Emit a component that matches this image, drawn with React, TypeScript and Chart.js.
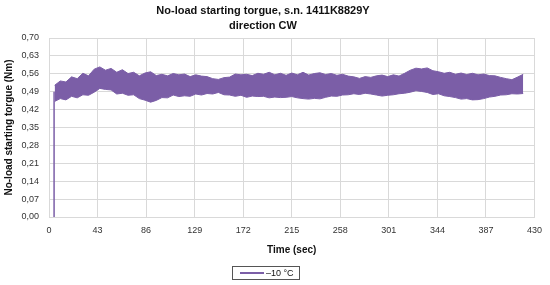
import React, { useEffect, useRef } from "react";
import { Chart, registerables } from "chart.js";

Chart.register(...registerables);

const titleLines = ["No-load starting torgue, s.n. 1411K8829Y", "direction CW"];
const xTitle = "Time (sec)";
const yTitle = "No-load starting torgue (Nm)";
const seriesLabel = "\u201310 \u00b0C";

const times = [
  5, 10, 15, 20, 25, 30, 35, 40, 45, 50, 55, 60, 65, 70, 75, 80, 85, 90, 95, 100,
  105, 110, 115, 120, 125, 130, 135, 140, 145, 150, 155, 160, 165, 170, 175, 180,
  185, 190, 195, 200, 205, 210, 215, 220, 225, 230, 235, 240, 245, 250, 255, 260,
  265, 270, 275, 280, 285, 290, 295, 300, 305, 310, 315, 320, 325, 330, 335, 340,
  345, 350, 355, 360, 365, 370, 375, 380, 385, 390, 395, 400, 405, 410, 415, 420,
];

const upper = [
  0.515, 0.532, 0.528, 0.548, 0.541, 0.562, 0.552, 0.578, 0.587, 0.574, 0.581, 0.566, 0.576, 0.561, 0.566, 0.552, 0.563, 0.568, 0.553, 0.558,
  0.552, 0.561, 0.556, 0.559, 0.549, 0.556, 0.551, 0.549, 0.541, 0.538, 0.545, 0.547, 0.559, 0.556, 0.558, 0.553,
  0.562, 0.558, 0.566, 0.556, 0.562, 0.554, 0.563, 0.556, 0.566, 0.555, 0.561, 0.564, 0.557, 0.561, 0.554, 0.558,
  0.551, 0.548, 0.542, 0.549, 0.546, 0.552, 0.555, 0.549, 0.556, 0.551, 0.562, 0.574, 0.582, 0.579, 0.583, 0.572,
  0.568, 0.562, 0.566, 0.558, 0.563, 0.557, 0.562, 0.556, 0.559, 0.553, 0.552, 0.546, 0.541, 0.537, 0.547, 0.558,
];

const lower = [
  0.452, 0.463, 0.458, 0.472, 0.466, 0.478, 0.476, 0.488, 0.503, 0.499, 0.497, 0.481, 0.484, 0.476, 0.478, 0.463, 0.457, 0.449, 0.456, 0.467,
  0.466, 0.477, 0.471, 0.474, 0.472, 0.481, 0.477, 0.483, 0.481, 0.487, 0.478, 0.477, 0.472, 0.476, 0.468, 0.473,
  0.471, 0.472, 0.466, 0.469, 0.467, 0.468, 0.471, 0.466, 0.463, 0.461, 0.464, 0.462, 0.468, 0.473, 0.472, 0.477,
  0.478, 0.482, 0.479, 0.484, 0.481, 0.477, 0.473, 0.476, 0.478, 0.482, 0.484, 0.488, 0.494, 0.491, 0.487, 0.479,
  0.482, 0.474, 0.471, 0.467, 0.461, 0.463, 0.458, 0.459, 0.463, 0.469, 0.472, 0.477, 0.478, 0.482, 0.481, 0.483,
];

const spikeTimes = [4.5, 4.5];
const spikeValues = [0, 0.49];

const PURPLE = "#7b5ea7";
const FONT = "'Liberation Sans', Arial, sans-serif";

export default function App() {
  const ref = useRef<HTMLCanvasElement>(null);

  useEffect(() => {
    document.body.style.margin = "0";
    const canvas = ref.current;
    if (!canvas) return;

    const decor = {
      id: "decor",
      afterDraw(chart: any) {
        const ctx = chart.ctx;
        ctx.save();
        ctx.fillStyle = "#111";
        ctx.font = `bold 11px ${FONT}`;
        ctx.textAlign = "center";
        ctx.textBaseline = "middle";
        ctx.fillText(titleLines[0], 263, 10.5);
        ctx.fillText(titleLines[1], 263, 25.5);
        ctx.strokeStyle = "#555";
        ctx.lineWidth = 1;
        ctx.strokeRect(232.5, 266.5, 67, 13);
        ctx.strokeStyle = PURPLE;
        ctx.lineWidth = 2;
        ctx.beginPath();
        ctx.moveTo(240, 273);
        ctx.lineTo(264, 273);
        ctx.stroke();
        ctx.fillStyle = "#111";
        ctx.font = `9px ${FONT}`;
        ctx.textAlign = "left";
        ctx.fillText(seriesLabel, 266, 273.5);
        ctx.restore();
      },
    };

    const chart = new Chart(canvas, {
      type: "line",
      data: {
        datasets: [
          {
            label: "lower",
            data: times.map((t, i) => ({ x: t, y: lower[i] })),
            borderColor: PURPLE,
            borderWidth: 1,
            pointRadius: 0,
            fill: false,
            tension: 0,
          },
          {
            label: seriesLabel,
            data: times.map((t, i) => ({ x: t, y: upper[i] })),
            borderColor: PURPLE,
            backgroundColor: PURPLE,
            borderWidth: 1,
            pointRadius: 0,
            fill: "-1",
            tension: 0,
          },
          {
            label: "start",
            data: spikeTimes.map((t, i) => ({ x: t, y: spikeValues[i] })),
            borderColor: PURPLE,
            borderWidth: 1.5,
            pointRadius: 0,
            fill: false,
          },
        ],
      },
      options: {
        animation: false,
        responsive: false,
        maintainAspectRatio: false,
        layout: { padding: { left: 0, right: 12, top: 38, bottom: 0 } },
        plugins: {
          legend: { display: false },
          title: { display: false },
          tooltip: { enabled: false },
        },
        scales: {
          x: {
            type: "linear",
            min: 0,
            max: 430,
            afterFit: (s: any) => {
              s.height = 68;
            },
            ticks: {
              stepSize: 43,
              padding: 8,
              color: "#333",
              font: { family: FONT, size: 9 },
              maxRotation: 0,
            },
            grid: { color: "#d9d9d9", drawTicks: false },
            border: { color: "#d9d9d9" },
            title: {
              display: true,
              text: xTitle,
              color: "#111",
              font: { family: FONT, size: 10, weight: "bold" },
              padding: { top: 0, bottom: 29 },
            },
          },
          y: {
            min: 0,
            max: 0.7,
            afterFit: (s: any) => {
              s.width = 49;
            },
            ticks: {
              stepSize: 0.07,
              padding: 10,
              color: "#333",
              font: { family: FONT, size: 9 },
              callback: (v: any) => Number(v).toFixed(2).replace(".", ","),
            },
            grid: { color: "#d9d9d9", drawTicks: false },
            border: { color: "#d9d9d9" },
            title: {
              display: true,
              text: yTitle,
              color: "#111",
              font: { family: FONT, size: 10, weight: "bold" },
              padding: { top: 3, bottom: 0 },
            },
          },
        },
      },
      plugins: [decor],
    });

    return () => chart.destroy();
  }, []);

  return (
    <div style={{ width: 550, height: 285 }}>
      <canvas ref={ref} width={550} height={285} style={{ display: "block" }} />
    </div>
  );
}
